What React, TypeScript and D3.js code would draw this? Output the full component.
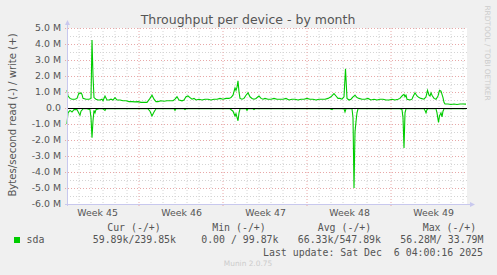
import React from "react";
import * as d3 from "d3";

// ---- data (x in days from start of window, values in MB/s) ----
const writeDays = [67,68,70,72,75,77,79,80,81,82,83,86,89,91,92,93,94,96,98,100,102,103,105,107,109,111,113,115,117,120,123,126,129,132,135,138,141,144,147,150,152,154,156,158,161,164,167,170,173,175,177,179,182,184,186,188,190,192,194,196,199,202,205,208,211,214,217,220,223,226,229,231,233,235,236,237,238,239,240,242,244,246,248,250,252,254,256,258,259,261,263,265,268,271,274,277,280,283,286,289,292,295,298,301,304,307,310,313,316,319,322,325,328,331,334,336,338,340,342,344,345.5,347,349,351,353,355,357,359,362,365,368,371,374,377,380,383,386,389,392,395,398,400,402,404,405,406,407,410,412,413,415,417,419,421,424,426,427.5,429,430,431,432,434,436,438,439.5,441,443,444,445,448,451,454,457,460,463,466].map((p) => (p - 67) / 12);
const writeVals = [1.12,0.75,0.6,0.55,0.55,0.6,0.95,0.9,0.95,0.85,0.6,0.55,0.55,0.6,4.25,2.0,0.65,0.55,0.5,0.5,0.55,0.45,0.75,0.5,0.5,0.55,0.5,0.65,0.5,0.5,0.45,0.45,0.4,0.4,0.38,0.4,0.35,0.35,0.35,0.6,0.8,0.55,0.4,0.4,0.45,0.42,0.45,0.45,0.45,0.55,0.7,0.5,0.45,0.5,0.7,0.75,0.65,0.55,0.6,0.5,0.55,0.5,0.55,0.55,0.5,0.55,0.55,0.6,0.55,0.6,0.6,0.65,0.8,1.25,1.1,1.3,1.7,1.0,0.6,0.55,0.6,0.8,0.95,0.7,0.6,0.55,0.6,0.7,0.75,0.6,0.55,0.6,0.55,0.55,0.6,0.55,0.55,0.55,0.6,0.5,0.55,0.55,0.5,0.55,0.55,0.6,0.55,0.55,0.5,0.55,0.55,0.55,0.6,0.7,0.9,0.75,0.6,0.6,0.55,0.7,2.45,0.6,0.5,0.55,0.7,0.8,0.65,0.6,0.55,0.55,0.6,0.5,0.55,0.5,0.55,0.55,0.5,0.5,0.55,0.5,0.55,0.6,0.75,0.85,0.7,0.8,0.55,0.5,0.55,0.7,0.95,0.75,0.65,0.6,0.55,0.7,1.1,0.8,0.75,0.95,0.8,0.6,0.55,0.75,1.1,1.05,0.65,0.35,0.25,0.25,0.22,0.25,0.22,0.25,0.25,0.24];

const readDays = [67,68,70,72,74,77,79,80,81,83,87,90,91,92,93,94,95,96,99,103,105,106,110,148,150,152,154,156,174,175,176,184,185,186,230,233,235,236,238,239,240,246,247,248,253,254,255,330,332,333,344,345,346,352,353,354,355,356,357,358,400,402,403,404,405,406,424,425,426,427,428,436,437,438.5,439.5,441,442,443,444,466].map((p) => (p - 67) / 12);
const readVals = [1.0,0.3,0.15,0.25,0.1,0.1,0.35,0.45,0.2,0.05,0.05,0.1,0.6,1.85,0.8,0.15,0.3,0.1,0.05,0.05,0.15,0.05,0.05,0.05,0.2,0.5,0.25,0.05,0.05,0.15,0.05,0.05,0.1,0.05,0.05,0.2,0.5,0.35,0.8,0.3,0.05,0.05,0.15,0.05,0.05,0.1,0.05,0.05,0.1,0.05,0.05,0.25,0.05,0.05,0.6,5.0,1.5,0.85,0.3,0.05,0.05,0.1,0.6,2.5,0.3,0.05,0.05,0.15,0.3,0.1,0.05,0.05,0.3,0.9,0.5,0.3,0.55,0.2,0.05,0.05];

const yTicks = [5, 4, 3, 2, 1, 0, -1, -2, -3, -4, -5, -6];
const yTickLabels = ["5.0 M", "4.0 M", "3.0 M", "2.0 M", "1.0 M", "0.0", "-1.0 M", "-2.0 M", "-3.0 M", "-4.0 M", "-5.0 M", "-6.0 M"];
const weekLabels = ["Week 45", "Week 46", "Week 47", "Week 48", "Week 49"];
const weekMids = [2.55, 9.55, 16.55, 23.55, 30.55];
const weekBounds = [6, 13, 20, 27];
const legendHeaders = ["Cur (-/+)", "Min (-/+)", "Avg (-/+)", "Max (-/+)"];
const legendValues = ["59.89k/239.85k", "0.00 / 99.87k", "66.33k/547.89k", "56.28M/ 33.79M"];

const W = 497, H = 275;
const L = 67, R = 467, T = 28, B = 204;

export default function App() {
  const x = d3.scaleLinear().domain([0, 400 / 12]).range([L, R]);
  const y = d3.scaleLinear().domain([-6, 5]).range([B, T]);
  const line = d3.line<[number, number]>().x((d) => x(d[0])).y((d) => y(d[1]));
  const wPts: [number, number][] = writeDays.map((d, i) => [d, writeVals[i]]);
  const rPts: [number, number][] = readDays.map((d, i) => [d, -readVals[i]]);
  const days = d3.range(1, 34);
  const halfs = d3.range(-5.5, 5, 1);
  const sans = "DejaVu Sans, sans-serif";
  const mono = "DejaVu Sans Mono, monospace";
  const axisCol = "#c8c8ee";
  const headerX = [134, 239, 344.5, 449.5];
  const valueRight = [176, 278.5, 381, 483.5];

  return (
    <svg width={W} height={H} style={{ position: "absolute", left: 0, top: 0 }}>
      <rect x={0} y={0} width={W} height={H} fill="#f0f0f0" />
      <rect x={L} y={T} width={R - L} height={B - T} fill="#ffffff" />
      {/* minor grid */}
      {days.filter((d) => !weekBounds.includes(d)).map((d) => (
        <line key={"vd" + d} x1={x(d)} x2={x(d)} y1={T} y2={B} stroke="#d4d4d4" strokeWidth={1} strokeDasharray="1,2" />
      ))}
      {halfs.map((v) => (
        <line key={"hh" + v} x1={L} x2={R} y1={Math.round(y(v)) + 0.5} y2={Math.round(y(v)) + 0.5} stroke="#d4d4d4" strokeWidth={1} strokeDasharray="1,2" />
      ))}
      {/* major grid */}
      {weekBounds.map((d) => (
        <line key={"vw" + d} x1={x(d)} x2={x(d)} y1={T} y2={B + 2} stroke="#e8a8a8" strokeWidth={1} strokeDasharray="1,2" />
      ))}
      {yTicks.filter((v) => v !== -6).map((v) => (
        <line key={"hm" + v} x1={L - 2} x2={R} y1={Math.round(y(v)) + 0.5} y2={Math.round(y(v)) + 0.5} stroke="#e8a8a8" strokeWidth={1} strokeDasharray="1,2" />
      ))}
      {/* series */}
      <path d={line(wPts) || ""} fill="none" stroke="#00cc00" strokeWidth={1.1} />
      <path d={line(rPts) || ""} fill="none" stroke="#00cc00" strokeWidth={1.1} />
      <line x1={L} x2={R} y1={Math.round(y(0)) + 0.5} y2={Math.round(y(0)) + 0.5} stroke="#000" strokeWidth={1} />
      {/* axes */}
      <line x1={L + 0.5} x2={L + 0.5} y1={B + 2} y2={T - 4} stroke={axisCol} strokeWidth={1} />
      <path d={`M${L - 2},${T - 3} L${L + 0.5},${T - 8} L${L + 3},${T - 3} Z`} fill={axisCol} />
      <line x1={L - 2} x2={R + 4} y1={B + 0.5} y2={B + 0.5} stroke={axisCol} strokeWidth={1} />
      <path d={`M${R + 3},${B - 2} L${R + 8},${B + 0.5} L${R + 3},${B + 3} Z`} fill={axisCol} />
      {/* y tick labels */}
      {yTicks.map((v, i) => (
        <text key={"yl" + v} x={61} y={y(v) + 3.3} textAnchor="end" fontFamily={sans} fontSize={9.4} fill="#555">{yTickLabels[i]}</text>
      ))}
      {/* x labels */}
      {weekLabels.map((s, i) => (
        <text key={s} x={x(weekMids[i])} y={215.5} textAnchor="middle" fontFamily={sans} fontSize={9.4} fill="#555">{s}</text>
      ))}
      {/* title */}
      <text x={248} y={23.5} textAnchor="middle" fontFamily={sans} fontSize={12.5} fill="#555">Throughput per device - by month</text>
      {/* y axis title */}
      <text transform="translate(15.5,115) rotate(-90)" textAnchor="middle" fontFamily={sans} fontSize={10.1} fill="#555">Bytes/second read (-) / write (+)</text>
      {/* rrdtool */}
      <text transform="translate(485,53) rotate(90)" textAnchor="middle" fontFamily={sans} fontSize={7.4} fill="#ccc">RRDTOOL / TOBI OETIKER</text>
      {/* legend */}
      {legendHeaders.map((s, i) => (
        <text key={s} x={headerX[i]} y={230.5} textAnchor="middle" fontFamily={mono} fontSize={9.9} fill="#555" style={{ whiteSpace: "pre" }}>{s}</text>
      ))}
      <rect x={14} y={237} width={6} height={6} fill="#00cc00" />
      <text x={26.5} y={243} fontFamily={mono} fontSize={9.9} fill="#555">sda</text>
      {legendValues.map((s, i) => (
        <text key={s} x={valueRight[i]} y={243} textAnchor="end" fontFamily={mono} fontSize={9.9} fill="#555" style={{ whiteSpace: "pre" }}>{s}</text>
      ))}
      <text x={483} y={255.5} textAnchor="end" fontFamily={mono} fontSize={9.9} fill="#555" style={{ whiteSpace: "pre" }}>{"Last update: Sat Dec  6 04:00:16 2025"}</text>
      <text x={248} y={266} textAnchor="middle" fontFamily={sans} fontSize={7.4} fill="#ccc">Munin 2.0.75</text>
    </svg>
  );
}
